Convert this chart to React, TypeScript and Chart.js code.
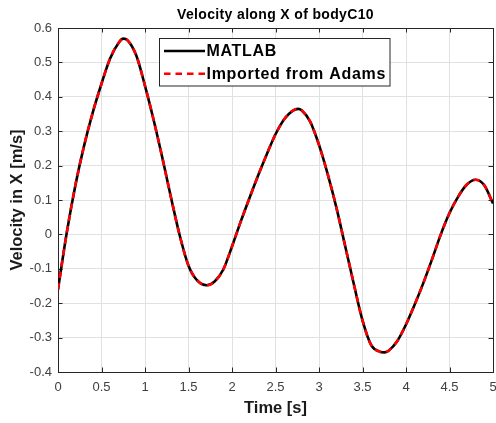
import React, { useEffect, useRef } from "react";
import { Chart, registerables } from "chart.js";

Chart.register(...registerables);

const timeSeconds = [
  0, 0.1, 0.2, 0.3, 0.4, 0.5, 0.6, 0.7, 0.75, 0.8, 0.9, 1.0, 1.1, 1.2, 1.3, 1.4,
  1.5, 1.6, 1.71, 1.8, 1.9, 2.0, 2.1, 2.2, 2.3, 2.4, 2.5, 2.6, 2.7, 2.76, 2.8,
  2.9, 3.0, 3.1, 3.2, 3.3, 3.4, 3.5, 3.6, 3.7, 3.75, 3.8, 3.9, 4.0, 4.1, 4.2,
  4.3, 4.4, 4.5, 4.6, 4.7, 4.8, 4.9, 5.0,
];

const matlabVelocity = [
  -0.16, 0.004, 0.143, 0.258, 0.355, 0.438, 0.512, 0.558, 0.569, 0.564, 0.52,
  0.432, 0.332, 0.222, 0.106, -0.004, -0.091, -0.134, -0.148, -0.137, -0.102,
  -0.035, 0.037, 0.105, 0.171, 0.233, 0.291, 0.335, 0.36, 0.365, 0.361, 0.327,
  0.26, 0.175, 0.078, -0.033, -0.144, -0.25, -0.322, -0.341, -0.343, -0.338,
  -0.31, -0.262, -0.204, -0.141, -0.072, 0.0, 0.062, 0.11, 0.145, 0.159, 0.143,
  0.09,
];

const adamsVelocity = [
  -0.16, 0.004, 0.143, 0.258, 0.355, 0.438, 0.512, 0.558, 0.569, 0.564, 0.52,
  0.432, 0.332, 0.222, 0.106, -0.004, -0.091, -0.134, -0.148, -0.137, -0.102,
  -0.035, 0.037, 0.105, 0.171, 0.233, 0.291, 0.335, 0.36, 0.365, 0.361, 0.327,
  0.26, 0.175, 0.078, -0.033, -0.144, -0.25, -0.322, -0.341, -0.343, -0.338,
  -0.31, -0.262, -0.204, -0.141, -0.072, 0.0, 0.062, 0.11, 0.145, 0.159, 0.143,
  0.09,
];

const seriesLabels = ["MATLAB", "Imported from Adams"];
const chartTitle = "Velocity along X of bodyC10";
const xAxisTitle = "Time [s]";
const yAxisTitle = "Velocity in X [m/s]";

const FONT = '"Liberation Sans", Arial, Helvetica, sans-serif';
const AXIS_COLOR = "#262626";

const framePlugin = {
  id: "matlabFrame",
  beforeDatasetsDraw(chart: any) {
    const { ctx, chartArea, scales } = chart;
    const { left, right, top, bottom } = chartArea;
    const tl = 4.5;
    ctx.save();
    ctx.strokeStyle = AXIS_COLOR;
    ctx.lineWidth = 1;
    ctx.beginPath();
    scales.x.ticks.forEach((t: any) => {
      const px = Math.round(scales.x.getPixelForValue(t.value)) + 0.5;
      ctx.moveTo(px, bottom);
      ctx.lineTo(px, bottom - tl);
      ctx.moveTo(px, top);
      ctx.lineTo(px, top + tl);
    });
    scales.y.ticks.forEach((t: any) => {
      const py = Math.round(scales.y.getPixelForValue(t.value)) + 0.5;
      ctx.moveTo(left, py);
      ctx.lineTo(left + tl, py);
      ctx.moveTo(right, py);
      ctx.lineTo(right - tl, py);
    });
    ctx.stroke();
    ctx.beginPath();
    ctx.rect(Math.round(left) + 0.5, Math.round(top) + 0.5, Math.round(right - left), Math.round(bottom - top));
    ctx.stroke();
    ctx.restore();
  },
  afterDraw(chart: any) {
    const { ctx, chartArea } = chart;
    ctx.save();
    // title
    ctx.fillStyle = "#000";
    ctx.font = `bold 14px ${FONT}`;
    (ctx as any).letterSpacing = "0.35px";
    ctx.textAlign = "center";
    ctx.textBaseline = "middle";
    ctx.fillText(chartTitle, (chartArea.left + chartArea.right) / 2, 15.3);

    // legend box
    const bx = 159.5, by = 38.5, bw = 230.5, bh = 47.5;
    ctx.fillStyle = "#fff";
    ctx.fillRect(bx, by, bw, bh);
    ctx.strokeStyle = AXIS_COLOR;
    ctx.lineWidth = 1;
    ctx.strokeRect(bx, by, bw, bh);
    const rows = [51, 73.7];
    const order = [0, 1];
    order.forEach((dsIndex, i) => {
      const ds: any = chart.data.datasets[dsIndex];
      const y = rows[i];
      ctx.beginPath();
      ctx.strokeStyle = ds.borderColor;
      ctx.lineWidth = ds.borderWidth;
      ctx.setLineDash(ds.borderDash || []);
      ctx.moveTo(164, y);
      ctx.lineTo(205, y);
      ctx.stroke();
      ctx.setLineDash([]);
      ctx.fillStyle = "#000";
      ctx.font = `bold 16px ${FONT}`;
      (ctx as any).letterSpacing = "0.7px";
      ctx.textAlign = "left";
      ctx.textBaseline = "middle";
      ctx.fillText(ds.label, 206.5, y + 0.5);
    });
    (ctx as any).letterSpacing = "0px";
    ctx.restore();
  },
};

export default function App() {
  const canvasRef = useRef<HTMLCanvasElement | null>(null);

  useEffect(() => {
    document.body.style.margin = "0";
    const canvas = canvasRef.current;
    if (!canvas) return;
    const toPoints = (vals: number[]) => timeSeconds.map((t, i) => ({ x: t, y: vals[i] }));
    const chart = new Chart(canvas, {
      type: "line",
      data: {
        datasets: [
          {
            label: seriesLabels[0],
            data: toPoints(matlabVelocity),
            borderColor: "#000000",
            borderWidth: 2.6,
            pointRadius: 0,
            cubicInterpolationMode: "monotone",
            fill: false,
            order: 2,
          },
          {
            label: seriesLabels[1],
            data: toPoints(adamsVelocity),
            borderColor: "#ff0000",
            borderWidth: 2.6,
            borderDash: [6.5, 5],
            pointRadius: 0,
            cubicInterpolationMode: "monotone",
            fill: false,
            order: 1,
          },
        ],
      },
      options: {
        responsive: false,
        animation: false,
        devicePixelRatio: 1,
        layout: { padding: { top: 28, right: 3, left: 0, bottom: 0 } },
        plugins: {
          legend: { display: false },
          title: { display: false },
          tooltip: { enabled: false },
        },
        scales: {
          x: {
            type: "linear",
            min: 0,
            max: 5,
            ticks: {
              stepSize: 0.5,
              padding: 7.4,
              color: "#404040",
              font: { family: FONT, size: 13 },
              maxRotation: 0,
              autoSkip: false,
              callback: (v: any) => String(Math.round(Number(v) * 10) / 10),
            },
            grid: { color: "#e1e1e1", drawTicks: false, lineWidth: 1 },
            border: { color: AXIS_COLOR, width: 1 },
            title: {
              display: true,
              text: xAxisTitle,
              color: "#1a1a1a",
              font: { family: FONT, size: 16.5, weight: "bold" },
              padding: { top: 0, bottom: 4.5 },
            },
            afterFit: (scale: any) => {
              scale.height = 51;
              scale.paddingLeft = 0;
              scale.paddingRight = 0;
            },
          },
          y: {
            type: "linear",
            min: -0.4,
            max: 0.6,
            ticks: {
              stepSize: 0.1,
              padding: 6,
              color: "#404040",
              font: { family: FONT, size: 13 },
              autoSkip: false,
              callback: (v: any) => String(Math.round(Number(v) * 10) / 10),
            },
            grid: { color: "#e1e1e1", drawTicks: false, lineWidth: 1 },
            border: { color: AXIS_COLOR, width: 1 },
            title: {
              display: true,
              text: yAxisTitle,
              color: "#1a1a1a",
              font: { family: FONT, size: 16.5, weight: "bold" },
              padding: { top: 7.5, bottom: 0 },
            },
            afterFit: (scale: any) => {
              scale.width = 58;
              scale.paddingTop = 0;
              scale.paddingBottom = 0;
            },
          },
        },
      },
      plugins: [framePlugin],
    });
    return () => chart.destroy();
  }, []);

  return (
    <div style={{ position: "absolute", left: 0, top: 0, width: 496, height: 423, background: "#fff" }}>
      <canvas ref={canvasRef} width={496} height={423} style={{ width: 496, height: 423 }} />
    </div>
  );
}
